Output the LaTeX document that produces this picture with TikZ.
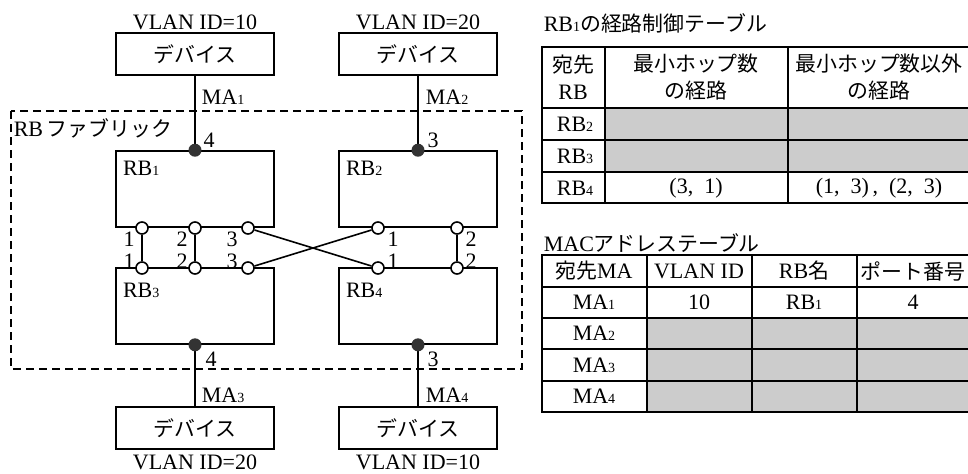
\documentclass[tikz,border=0pt]{standalone}
\usepackage{fontspec}
\setmainfont{Liberation Serif}
\newfontfamily\jp{Noto Sans CJK JP}[Scale=0.95]
\usetikzlibrary{calc}
\newcommand{\lo}[1]{{\fontsize{7}{8}\selectfont #1}}

\begin{document}
\begin{tikzpicture}[x=0.5pt, y=-0.5pt, line width=0.8pt,
  font=\fontsize{11}{13.5}\selectfont,
  box/.style={draw, minimum width=79pt, minimum height=21pt, inner sep=0pt},
  bridge/.style={draw, minimum width=79pt, minimum height=38pt, inner sep=0pt},
  port/.style={circle, draw, fill=white, minimum size=6pt, inner sep=0pt},
  tap/.style={circle, fill=black!80, minimum size=6.5pt, inner sep=0pt},
  num/.style={inner sep=0pt},
  fabric/.style={dash pattern=on 4pt off 2.5pt}]

\useasboundingbox (0,0) rectangle (968,473);

% Devices
\node[box] (dev1) at (195,54) {\jp デバイス};
\node[box] (dev2) at (418,54) {\jp デバイス};
\node[box] (dev3) at (195,428) {\jp デバイス};
\node[box] (dev4) at (418,428) {\jp デバイス};

% VLAN labels
\node[num] (vlan1) at (195,22) {VLAN ID=10};
\node[num] (vlan2) at (418,22) {VLAN ID=20};
\node[num] (vlan3) at (195,462) {VLAN ID=20};
\node[num] (vlan4) at (418,462) {VLAN ID=10};

% RB fabric
\draw[fabric] (11,111) rectangle (522,369);
\node[num, anchor=west] (fab) at (13,128) {RB\,{\jp ファブリック}};

% Routing bridges
\node[bridge] (RB1) at (195,189) {};
\node[bridge] (RB2) at (418,189) {};
\node[bridge] (RB3) at (195,306) {};
\node[bridge] (RB4) at (418,306) {};

\node[num, anchor=north west] (n1) at ($(RB1.north west)+(7,10)$) {RB\lo{1}};
\node[num, anchor=north west] (n2) at ($(RB2.north west)+(7,10)$) {RB\lo{2}};
\node[num, anchor=north west] (n3) at ($(RB3.north west)+(7,15)$) {RB\lo{3}};
\node[num, anchor=north west] (n4) at ($(RB4.north west)+(7,15)$) {RB\lo{4}};

% Device links
\draw (dev1.south) -- (RB1.north);
\draw (dev2.south) -- (RB2.north);
\draw (dev3.north) -- (RB3.south);
\draw (dev4.north) -- (RB4.south);

\node[tap] (t1) at (RB1.north) {};
\node[tap] (t2) at (RB2.north) {};
\node[tap] (t3) at (RB3.south) {};
\node[tap] (t4) at (RB4.south) {};

\node[num] (tn1) at (209,140) {4};
\node[num] (tn2) at (433,140) {3};
\node[num] (tn3) at (211,359) {4};
\node[num] (tn4) at (433,359) {3};

\node[num, anchor=west] (ma1) at (201,97) {MA\lo{1}};
\node[num, anchor=west] (ma2) at (425,97) {MA\lo{2}};
\node[num, anchor=west] (ma3) at (201,395) {MA\lo{3}};
\node[num, anchor=west] (ma4) at (425,395) {MA\lo{4}};

% Ports
\node[port] (p11) at (142,228) {};
\node[port] (p12) at (195,228) {};
\node[port] (p13) at (248,228) {};
\node[port] (p21) at (378,228) {};
\node[port] (p22) at (457,228) {};
\node[port] (p31) at (142,268) {};
\node[port] (p32) at (195,268) {};
\node[port] (p33) at (248,268) {};
\node[port] (p41) at (378,268) {};
\node[port] (p42) at (457,268) {};

% Links between bridges
\draw (p11) -- (p31);
\draw (p12) -- (p32);
\draw (p22) -- (p42);
\draw (p13) -- (p41);
\draw (p33) -- (p21);

% Port numbers
\foreach \x/\t in {129/1,182/2,232/3,393/1,471/2} {
  \node[num] (pu\x) at (\x,239) {\t};
  \node[num] (pd\x) at (\x,261) {\t};
}

% Routing table of RB1
\node[num, anchor=west] (rtitle) at (543,23) {RB\lo{1}{\jp の経路制御テーブル}};
\fill[black!20] (605,108) rectangle (970,172);
\draw (542,47) rectangle (970,203);
\foreach \y in {108,140,172} \draw (542,\y) -- (970,\y);
\foreach \x in {605,788} \draw (\x,47) -- (\x,203);

\node[num, align=center] (rh1) at (573,77) {{\jp 宛先}\\RB};
\node[num, align=center, font=\fontsize{11}{13.5}\selectfont\jp] (rh2) at (696,77) {最小ホップ数\\の経路};
\node[num, align=center, font=\fontsize{11}{13.5}\selectfont\jp] (rh3) at (879,77) {最小ホップ数以外\\の経路};
\node[num] (rr2) at (575,124) {RB\lo{2}};
\node[num] (rr3) at (575,156) {RB\lo{3}};
\node[num] (rr4) at (575,188) {RB\lo{4}};
\node[num] (rmin) at (696,188) {(3,\enspace1)};
\node[num] (rother) at (879,188) {(1,\enspace3)\,,\enspace(2,\enspace3)};

% MAC address table
\node[num, anchor=west] (mtitle) at (543,243) {MAC{\jp アドレステーブル}};
\fill[black!20] (647,318) rectangle (970,412);
\draw (542,255) rectangle (970,412);
\foreach \y in {287,318,349,381} \draw (542,\y) -- (970,\y);
\foreach \x in {647,752,857} \draw (\x,255) -- (\x,412);

\node[num] (mh1) at (594,271) {{\jp 宛先}MA};
\node[num] (mh2) at (699,271) {VLAN ID};
\node[num] (mh3) at (804,271) {RB{\jp 名}};
\node[num] (mh4) at (913,271) {\jp ポート番号};
\node[num] (m1) at (594,302) {MA\lo{1}};
\node[num] (m1v) at (699,302) {10};
\node[num] (m1r) at (804,302) {RB\lo{1}};
\node[num] (m1p) at (913,302) {4};
\node[num] (m2) at (594,333) {MA\lo{2}};
\node[num] (m3) at (594,365) {MA\lo{3}};
\node[num] (m4) at (594,396) {MA\lo{4}};

\end{tikzpicture}
\end{document}
